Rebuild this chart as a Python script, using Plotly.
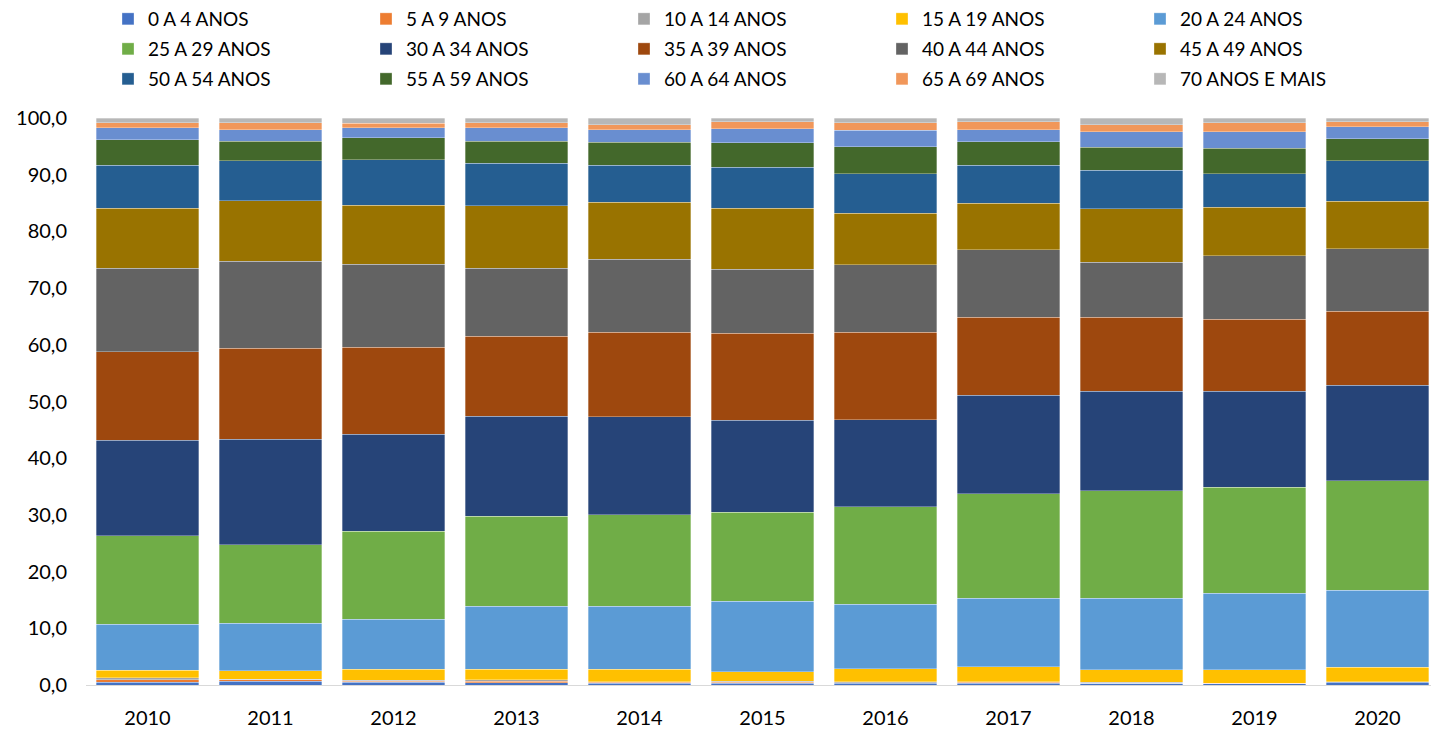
import plotly.graph_objects as go

years = ["2010", "2011", "2012", "2013", "2014", "2015", "2016", "2017", "2018", "2019", "2020"]

groups = ["0 A 4 ANOS", "5 A 9 ANOS", "10 A 14 ANOS", "15 A 19 ANOS", "20 A 24 ANOS",
          "25 A 29 ANOS", "30 A 34 ANOS", "35 A 39 ANOS", "40 A 44 ANOS", "45 A 49 ANOS",
          "50 A 54 ANOS", "55 A 59 ANOS", "60 A 64 ANOS", "65 A 69 ANOS", "70 ANOS E MAIS"]

colors = ["#4472C4", "#ED7D31", "#A5A5A5", "#FFC000", "#5B9BD5",
          "#70AD47", "#264478", "#9E480E", "#636363", "#997300",
          "#255E91", "#43682B", "#698ED0", "#F1975A", "#B7B7B7"]

a00_04 = [0.5, 0.7, 0.5, 0.4, 0.35, 0.3, 0.3, 0.3, 0.3, 0.25, 0.5]
a05_09 = [0.4, 0.2, 0.2, 0.25, 0.1, 0.2, 0.1, 0.15, 0.05, 0.05, 0.05]
a10_14 = [0.4, 0.1, 0.1, 0.3, 0.15, 0.15, 0.15, 0.15, 0.15, 0.05, 0.05]
a15_19 = [1.3, 1.5, 2.0, 1.85, 2.2, 1.7, 2.35, 2.6, 2.15, 2.35, 2.5]
a20_24 = [8.1, 8.4, 8.8, 11.1, 11.1, 12.45, 11.3, 12.1, 12.65, 13.5, 13.6]
a25_29 = [15.6, 13.8, 15.5, 15.9, 16.1, 15.7, 17.2, 18.4, 19.0, 18.7, 19.3]
a30_34 = [16.9, 18.6, 17.1, 17.6, 17.3, 16.2, 15.4, 17.4, 17.5, 16.9, 16.9]
a35_39 = [15.6, 16.1, 15.4, 14.1, 14.9, 15.3, 15.4, 13.8, 13.1, 12.7, 13.0]
a40_44 = [14.7, 15.3, 14.6, 12.0, 12.9, 11.3, 11.9, 11.9, 9.7, 11.2, 11.0]
a45_49 = [10.6, 10.7, 10.4, 11.0, 10.0, 10.8, 9.1, 8.2, 9.4, 8.6, 8.4]
a50_54 = [7.6, 7.1, 8.0, 7.5, 6.6, 7.2, 7.0, 6.7, 6.8, 5.9, 7.2]
a55_59 = [4.5, 3.4, 3.9, 3.9, 4.0, 4.3, 4.7, 4.1, 4.0, 4.5, 3.8]
a60_64 = [2.1, 2.0, 1.8, 2.4, 2.2, 2.5, 2.9, 2.1, 2.8, 2.9, 2.2]
a65_69 = [0.9, 1.3, 0.8, 0.9, 0.9, 1.2, 1.4, 1.4, 1.2, 1.6, 0.8]
a70_up = [0.8, 0.8, 0.9, 0.8, 1.2, 0.7, 0.8, 0.7, 1.2, 0.8, 0.7]

series = [a00_04, a05_09, a10_14, a15_19, a20_24, a25_29, a30_34, a35_39,
          a40_44, a45_49, a50_54, a55_59, a60_64, a65_69, a70_up]

yticks = [0, 10, 20, 30, 40, 50, 60, 70, 80, 90, 100]

FONT = "Lato"
W, H = 1431, 723  # page has an 8px body margin
legend_ids = ["legend", "legend2", "legend3"]

fig = go.Figure()
for i, (name, vals, col) in enumerate(zip(groups, series, colors)):
    fig.add_trace(go.Bar(
        x=years, y=vals, name=name,
        legend=legend_ids[i // 5],
        marker=dict(color=col, line=dict(color="rgba(255,255,255,0.45)", width=0.7)),
        hoverinfo="x+y+name",
    ))

def legend_row(ycenter_px):
    return dict(
        orientation="h",
        traceorder="normal",
        xref="container", yref="container",
        x=100 / W, y=1 - ycenter_px / H, xanchor="left", yanchor="middle",
        entrywidth=213, entrywidthmode="pixels",
        font=dict(family=FONT, size=19, color="#000000"),
        bgcolor="rgba(0,0,0,0)",
    )

fig.update_layout(
    width=W, height=H,
    barmode="stack",
    bargap=0.165,
    plot_bgcolor="white",
    paper_bgcolor="white",
    separators=",.",
    font=dict(family=FONT, color="#000000"),
    margin=dict(l=78, r=0, t=110, b=46, autoexpand=False),
    legend=legend_row(11),
    legend2=legend_row(41),
    legend3=legend_row(71),
    showlegend=True,
)

fig.update_xaxes(
    showgrid=False,
    showline=True, linecolor="#D9D9D9", linewidth=1,
    tickfont=dict(family=FONT, size=20, color="#000000"),
    ticklabelstandoff=15,
)
fig.update_yaxes(
    range=[0, 100],
    tickvals=yticks,
    tickformat=".1f",
    showgrid=False, zeroline=False, showline=False,
    tickfont=dict(family=FONT, size=20, color="#000000"),
    ticklabelstandoff=18,
)

fig.write_html("out.html")
